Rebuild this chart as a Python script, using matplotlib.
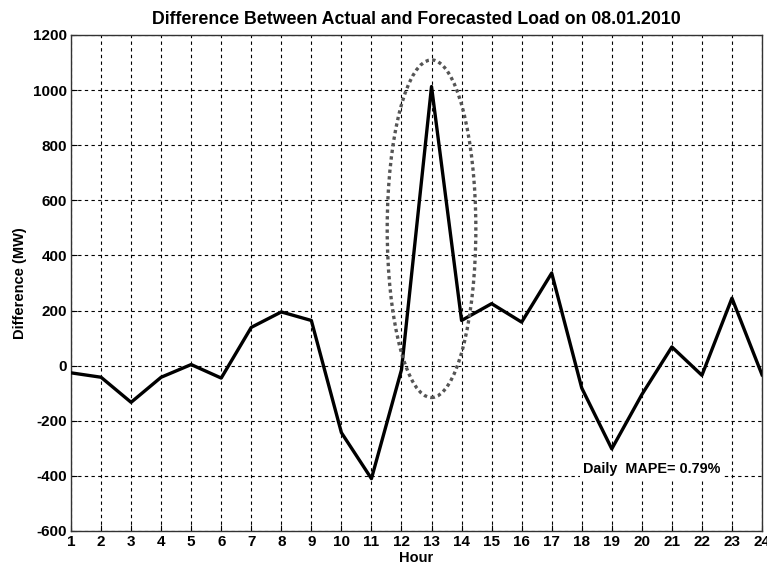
import matplotlib
matplotlib.use("Agg")
import matplotlib.pyplot as plt
from matplotlib.patches import Ellipse

hours = list(range(1, 25))
diff = [-26, -42, -133, -42, 4, -45, 139, 195, 164, -243, -410, -15,
        1013, 164, 225, 158, 336, -81, -302, -105, 68, -35, 245, -33]
x_ticks = list(range(1, 25))
y_ticks = list(range(-600, 1201, 200))

plt.rcParams['font.family'] = ['Liberation Sans', 'DejaVu Sans']
plt.rcParams['font.weight'] = 'bold'
plt.rcParams['axes.unicode_minus'] = False

fig = plt.figure(figsize=(7.67, 5.67), dpi=100)
ax = fig.add_axes([71/767, 1-531/567, 691/767, 496/567])

ax.plot(hours, diff, color='black', linewidth=2.4, zorder=3)
ell = Ellipse((13, 497), width=2.95, height=1225, fill=False,
              edgecolor='#555555', linestyle=(0, (1, 1.0)), linewidth=2.4, zorder=4)
ax.add_patch(ell)

ax.set_xlim(1, 24)
ax.set_ylim(-600, 1200)
ax.set_xticks(x_ticks)
ax.set_yticks(y_ticks)
ax.tick_params(direction='in', labelsize=11, length=4, width=0.8, pad=3)
for lab in ax.get_xticklabels() + ax.get_yticklabels():
    lab.set_fontweight('bold')
ax.grid(True, color='black', linestyle=(0, (3, 3)), linewidth=0.8)
for s in ax.spines.values():
    s.set_linewidth(1.0)
    s.set_color('#333333')

ax.set_title('Difference Between Actual and Forecasted Load on 08.01.2010',
             fontsize=12.8, fontweight='bold', pad=8)
ax.set_xlabel('Hour', fontsize=10.5, fontweight='bold', labelpad=1)
ax.set_ylabel('Difference (MW)', fontsize=10.5, fontweight='bold', labelpad=4)

ax.text(18.03, -376, 'Daily  MAPE= 0.79%', fontsize=10.4, fontweight='bold',
        ha='left', va='center', zorder=5,
        bbox=dict(facecolor='white', edgecolor='none', pad=2))

fig.savefig('out.png', dpi=100)
